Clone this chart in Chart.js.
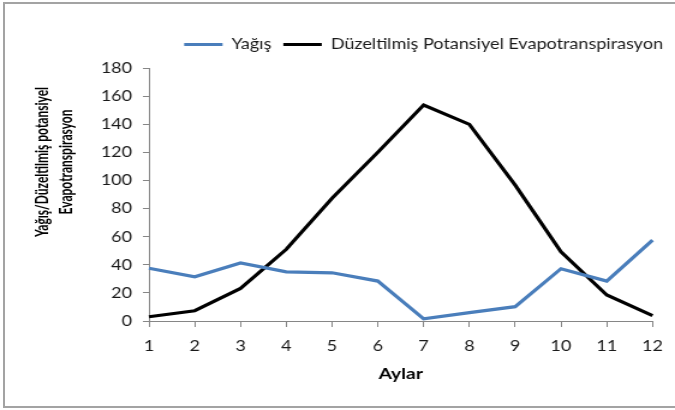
<!DOCTYPE html>
<html lang="tr">
<head>
<meta charset="utf-8">
<title>Yağış ve Düzeltilmiş Potansiyel Evapotranspirasyon</title>
<script src="https://cdn.jsdelivr.net/npm/chart.js@4/dist/chart.umd.min.js"></script>
<style>
  html, body { margin: 0; padding: 0; background: #fff; overflow: hidden; }
  #frame {
    position: absolute; left: 3px; top: 2px; width: 720px; height: 406px;
    box-sizing: border-box; border: 2px solid #a3a3a3;
  }
  #chart { position: absolute; left: 0; top: 0; }
</style>
</head>
<body>
<div id="frame"></div>
<!-- drawn on a narrower canvas and widened by CSS, giving the wide lettering of the original figure -->
<canvas id="chart" width="562" height="410" style="width:675px;height:410px"></canvas>
<script>
// Months
const months = ['1', '2', '3', '4', '5', '6', '7', '8', '9', '10', '11', '12'];

// Monthly precipitation (mm)
const yagis = [37.5, 31.5, 41.3, 35.0, 34.3, 28.4, 1.5, 6.0, 10.2, 37.2, 28.4, 57.6];

// Adjusted potential evapotranspiration (mm)
const duzeltilmisPET = [3.0, 7.3, 23.2, 51.0, 87.3, 120.0, 153.6, 139.9, 96.7, 49.3, 18.5, 3.8];

// Axis labels and value range
const seriesNames = ['Yağış', 'Düzeltilmiş Potansiyel Evapotranspirasyon'];
const yTitleLines = ['Yağış/Düzeltilmiş potansiyel', 'Evapotranspirasyon'];
const xTitle = 'Aylar';
const yMin = 0, yMax = 180, yStep = 20;

const AXIS = '#868686';
const TEXT = '#1a1a1a';

Chart.defaults.font.family = 'Lato, "Open Sans", sans-serif';
Chart.defaults.color = TEXT;

// Two-line rotated title on the left, centred on the upper part of the value axis
const yTitlePlugin = {
  id: 'yTitle',
  afterDraw(chart) {
    const ctx = chart.ctx;
    const glyphScale = 1.3;
    ctx.save();
    ctx.fillStyle = '#000';
    ctx.font = 'bold 12px Lato, "Open Sans", sans-serif';
    ctx.textAlign = 'center';
    ctx.textBaseline = 'middle';
    ctx.translate(35, 162);
    ctx.rotate(-Math.PI / 2);
    ctx.scale(1, glyphScale);
    yTitleLines.forEach((line, i) => ctx.fillText(line, 0, i * 20 / glyphScale));
    ctx.restore();
  }
};

new Chart(document.getElementById('chart'), {
  type: 'line',
  data: {
    labels: months,
    datasets: [
      {
        label: seriesNames[0],
        data: yagis,
        borderColor: '#4a7ebb',
        backgroundColor: '#4a7ebb',
        borderWidth: 3.2,
        pointRadius: 0,
        tension: 0
      },
      {
        label: seriesNames[1],
        data: duzeltilmisPET,
        borderColor: '#000000',
        backgroundColor: '#000000',
        borderWidth: 3.2,
        pointRadius: 0,
        tension: 0
      }
    ]
  },
  options: {
    responsive: false,
    devicePixelRatio: 1,
    animation: false,
    layout: { padding: { top: 27, left: 0, right: 0, bottom: 27 } },
    plugins: {
      legend: {
        position: 'top',
        align: 'end',
        weight: 3000,
        labels: {
          usePointStyle: true,
          pointStyle: 'line',
          pointStyleWidth: 32,
          padding: 10,
          color: TEXT,
          font: { size: 15 }
        }
      },
      // empty spacer between the legend and the plot
      title: {
        display: true,
        text: '',
        font: { size: 1, lineHeight: 1 },
        padding: { top: 0, bottom: 5 }
      },
      tooltip: { enabled: false }
    },
    scales: {
      x: {
        type: 'category',
        offset: false,
        grid: { display: true, drawOnChartArea: false, drawTicks: true, tickLength: 6, color: AXIS },
        border: { display: true, color: AXIS, width: 1 },
        ticks: { padding: 10, color: TEXT, font: { size: 15 }, maxRotation: 0, autoSkip: false },
        title: {
          display: true,
          text: xTitle,
          color: '#000',
          font: { size: 16, weight: 'bold' },
          padding: { top: 0, bottom: 0 }
        },
        afterFit(scale) { scale.height = 62; }
      },
      y: {
        type: 'linear',
        position: 'left',
        min: yMin,
        max: yMax,
        grid: { display: true, drawOnChartArea: false, drawTicks: true, tickLength: 5, color: AXIS },
        border: { display: true, color: AXIS, width: 1 },
        ticks: { stepSize: yStep, padding: 9, color: TEXT, font: { size: 15 } },
        afterFit(scale) { scale.width = 124; }
      },
      yRight: {
        type: 'linear',
        position: 'right',
        display: true,
        grid: { display: false },
        border: { display: false },
        ticks: { display: false },
        afterFit(scale) { scale.width = 17.5; }
      }
    }
  },
  plugins: [yTitlePlugin]
});
</script>
</body>
</html>
